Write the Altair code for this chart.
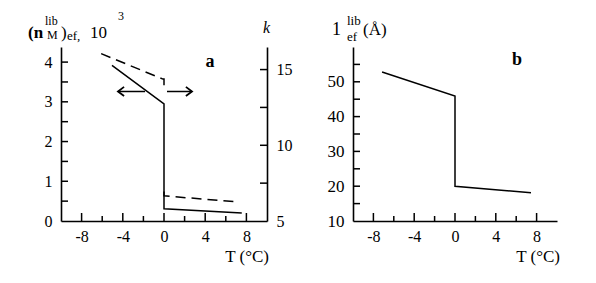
import altair as alt
import pandas as pd

FONT = "Liberation Serif"

# ---- panel a data ----
T_solid = [-5.05, 0.0, 0.0, 7.55]
n_solid = [3.92, 2.95, 0.31, 0.20]
T_dash = [-6.1, -0.1, 0.0, 0.0, 0.0, 0.0, 6.8]
k_dash = [16.05, 14.37, 14.37, 13.78, 6.95, 6.66, 6.28]
dash_seg = [0, 0, 0, 0, 1, 1, 1]
arrow_n = 3.26
arrow_left = [-1.84, -4.47]
arrow_right = [0.29, 2.72]
label_a = [4.47, 3.99]

# ---- panel b data ----
T_b = [-7.15, 0.0, 0.0, 7.45]
l_b = [52.8, 45.9, 20.0, 18.1]
label_b = [6.08, 56.3]

# ---- ticks ----
x_major = [-8, -4, 0, 4, 8]
x_minor = [-6, -2, 2, 6]
n_labels = [0, 1, 2, 3, 4]
n_ticks = [0.5, 1, 1.5, 2, 2.5, 3, 3.5, 4]
k_labels = [5, 10, 15]
k_ticks = [7.5, 10, 12.5, 15]
l_labels = [10, 20, 30, 40, 50]
l_ticks = [15, 20, 25, 30, 35, 40, 45, 50, 55]

W, H = 496, 174
XA = alt.Scale(domain=[-10, 10], range=[0, 206], nice=False, zero=False)
XB = alt.Scale(domain=[-10, 10], range=[292, 496], nice=False, zero=False)
YN = alt.Scale(domain=[0, 4.38], range=[H, 0], nice=False, zero=False)
YK = alt.Scale(domain=[5, 16.49], range=[H, 0], nice=False, zero=False)
YL = alt.Scale(domain=[10, 60], range=[H, 0], nice=False, zero=False)


def ax(values, orient, size=16, pad=8, offset=0):
    return alt.Axis(values=values, orient=orient, offset=offset, ticks=False, grid=False,
                    title=None, labelFont=FONT, labelFontSize=size, labelColor="black",
                    labelPadding=pad, domainColor="black", domainWidth=1.6,
                    labelExpr="'' + datum.value", labelFlush=False, labelOverlap=False)


def line_df(xs, ys, seg=None):
    return pd.DataFrame({"x": xs, "y": ys, "i": list(range(len(xs))),
                         "s": seg if seg is not None else [0] * len(xs)})


solid_a = alt.Chart(line_df(T_solid, n_solid)).mark_line(color="black", strokeWidth=1.5).encode(
    x=alt.X("x:Q", scale=XA, axis=ax(x_major, "bottom", 16, 7)),
    y=alt.Y("y:Q", scale=YN, axis=ax(n_labels, "left", 16, 9)),
    order="i:Q")

dash_a = alt.Chart(line_df(T_dash, k_dash, dash_seg)).mark_line(color="black", strokeWidth=1.5, strokeDash=[10, 6]).encode(
    x=alt.X("x:Q", scale=XA, axis=None),
    y=alt.Y("y:Q", scale=YK, axis=ax(k_labels, "right", 16, 9, offset=206 - W)),
    detail="s:N",
    order="i:Q")

line_b = alt.Chart(line_df(T_b, l_b)).mark_line(color="black", strokeWidth=1.5).encode(
    x=alt.X("x:Q", scale=XB, axis=ax(x_major, "bottom", 16, 7)),
    y=alt.Y("y:Q", scale=YL, axis=ax(l_labels, "left", 17, 9, offset=-292)),
    order="i:Q")


def xticks(vals, scale, length):
    return alt.Chart(pd.DataFrame({"v": vals})).mark_rule(color="black", strokeWidth=1.5).encode(
        x=alt.X("v:Q", scale=scale, axis=None), y=alt.value(H), y2=alt.value(H - length))


def yticks(vals, scale, x0, x1):
    return alt.Chart(pd.DataFrame({"v": vals})).mark_rule(color="black", strokeWidth=1.5).encode(
        y=alt.Y("v:Q", scale=scale, axis=None), x=alt.value(x0), x2=alt.value(x1))


ticks = [
    xticks(x_major, XA, 8), xticks(x_minor, XA, 5),
    xticks(x_major, XB, 8), xticks(x_minor, XB, 5),
    yticks(n_ticks, YN, 0, 7),
    yticks(k_ticks, YK, 199, 206),
    yticks(l_ticks, YL, 292, 299),
]

arrow_df = pd.DataFrame({"x1": [arrow_left[0], arrow_right[0]],
                         "x2": [arrow_left[1], arrow_right[1]],
                         "y": [arrow_n, arrow_n]})
arrow_rules = alt.Chart(arrow_df).mark_rule(color="black", strokeWidth=1.5).encode(
    x=alt.X("x1:Q", scale=XA, axis=None), x2="x2:Q",
    y=alt.Y("y:Q", scale=YN, axis=None))

LEFT_HEAD = "M1,-0.75L0,0L1,0.75"
RIGHT_HEAD = "M-1,-0.75L0,0L-1,0.75"
head_l = alt.Chart(pd.DataFrame({"x": [arrow_left[1]], "y": [arrow_n]})).mark_point(
    shape=LEFT_HEAD, filled=False, color="black", strokeWidth=1.8, size=150, opacity=1).encode(
    x=alt.X("x:Q", scale=XA, axis=None), y=alt.Y("y:Q", scale=YN, axis=None))
head_r = alt.Chart(pd.DataFrame({"x": [arrow_right[1]], "y": [arrow_n]})).mark_point(
    shape=RIGHT_HEAD, filled=False, color="black", strokeWidth=1.8, size=150, opacity=1).encode(
    x=alt.X("x:Q", scale=XA, axis=None), y=alt.Y("y:Q", scale=YN, axis=None))

txt_a = alt.Chart(pd.DataFrame({"x": [label_a[0]], "y": [label_a[1]], "t": ["a"]})).mark_text(
    font=FONT, fontSize=18, fontWeight="bold", color="black", baseline="middle").encode(
    x=alt.X("x:Q", scale=XA, axis=None), y=alt.Y("y:Q", scale=YN, axis=None), text="t:N")
txt_b = alt.Chart(pd.DataFrame({"x": [label_b[0]], "y": [label_b[1]], "t": ["b"]})).mark_text(
    font=FONT, fontSize=18, fontWeight="bold", color="black", baseline="middle").encode(
    x=alt.X("x:Q", scale=XB, axis=None), y=alt.Y("y:Q", scale=YL, axis=None), text="t:N")


def label(txt, px, py, size=17, weight="normal", style="normal", align="left"):
    return alt.Chart(pd.DataFrame({"t": [txt]})).mark_text(
        font=FONT, fontSize=size, fontWeight=weight, fontStyle=style, align=align,
        baseline="alphabetic", color="black").encode(
        x=alt.value(px), y=alt.value(py), text="t:N")


titles = [
    label("(n", -33, -9, 17, "bold"),
    label("lib", -16, -22, 12),
    label("M", -14, -8, 12),
    label(")", 0, -9, 17),
    label("ef,", 6, -7, 13),
    label("10", 29, -9, 17),
    label("3", 57, -27, 12),
    label("k", 202, -14, 16, style="italic"),
    label("T (°C)", 208, 215, 17, align="right"),
    label("1", 271, -12, 18),
    label("lib", 286, -22, 13),
    label("ef", 286, -6, 13),
    label("(Å)", 302, -12, 17),
    label("T (°C)", 499, 215, 17, align="right"),
]

chart = alt.layer(solid_a, dash_a, line_b, *ticks, arrow_rules, head_l, head_r, txt_a, txt_b, *titles).resolve_scale(
    x="independent", y="independent").resolve_axis(x="independent", y="independent").properties(
    width=W, height=H, autosize=alt.AutoSizeParams(type="none"),
    padding={"left": 53, "top": 39, "right": 28, "bottom": 50},
    background="white").configure_view(stroke=None)

chart.save("out.html", embed_options={"renderer": "svg", "actions": False})
